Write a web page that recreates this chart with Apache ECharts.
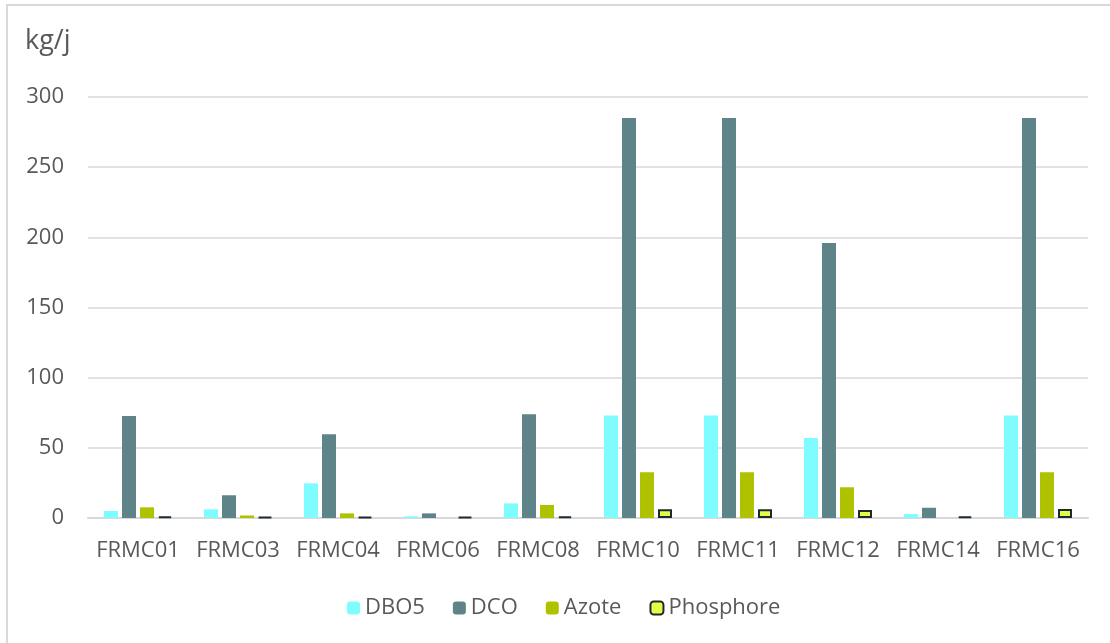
<!DOCTYPE html>
<html>
<head>
<meta charset="utf-8">
<script src="https://cdn.jsdelivr.net/npm/echarts@6/dist/echarts.min.js"></script>
<style>
html,body{margin:0;padding:0;background:#fff;}
#frame{position:absolute;left:6px;top:4px;width:1200px;height:700px;border-left:2px solid #d9d9d9;border-top:2px solid #d9d9d9;}
#chart{position:absolute;left:0;top:0;width:1110px;height:643px;}
</style>
</head>
<body>
<div id="frame"></div>
<div id="chart"></div>
<script>
const categories = ['FRMC01','FRMC03','FRMC04','FRMC06','FRMC08','FRMC10','FRMC11','FRMC12','FRMC14','FRMC16'];
const dbo5      = [5, 6.2, 24.7, 1.2, 10.4, 73, 73, 57, 2.8, 73];
const dco       = [72.7, 16.2, 59.6, 3.3, 74, 285, 285, 196, 7.3, 285];
const azote     = [7.6, 1.8, 3.3, 0, 9.3, 32.6, 32.6, 21.9, 0, 32.6];
const phosphore = [1.2, 0.8, 0.8, 0.8, 1.2, 6.3, 6.3, 5.7, 1, 6.5];
const yTicks = [0, 50, 100, 150, 200, 250, 300];

const font = '"Open Sans", "Noto Sans", sans-serif';
const txt = '#595959';
const chart = echarts.init(document.getElementById('chart'));
chart.setOption({
  animation: false,
  textStyle: {fontFamily: font},
  graphic: [{type: 'text', left: 25, top: 28, style: {text: 'kg/j', fontSize: 27, fill: txt, fontFamily: font}}],
  legend: {
    bottom: 19, left: 342, itemWidth: 13, itemHeight: 13, itemGap: 28,
    textStyle: {fontSize: 22, color: txt, fontFamily: font},
    data: ['DBO5','DCO','Azote','Phosphore']
  },
  grid: {left: 88, right: 22, top: 97, bottom: 125, containLabel: false},
  xAxis: {
    type: 'category', data: categories,
    axisLine: {lineStyle: {color: '#d9d9d9', width: 2}},
    axisTick: {show: false},
    axisLabel: {fontSize: 22, color: txt, margin: 22, fontFamily: font, interval: 0, hideOverlap: false}
  },
  yAxis: {
    type: 'value', min: yTicks[0], max: yTicks[yTicks.length-1], interval: 50,
    axisLine: {show: false}, axisTick: {show: false},
    splitLine: {lineStyle: {color: '#d9d9d9', width: 1.5}},
    axisLabel: {fontSize: 22, color: txt, margin: 24, fontFamily: font}
  },
  series: [
    {name: 'DBO5', type: 'bar', data: dbo5, barWidth: 14, barGap: '28.6%', itemStyle: {color: '#7ffcff'}},
    {name: 'DCO', type: 'bar', data: dco, barWidth: 14, itemStyle: {color: '#5e8489'}},
    {name: 'Azote', type: 'bar', data: azote, barWidth: 14, itemStyle: {color: '#aec200'}},
    {name: 'Phosphore', type: 'bar', data: phosphore, barWidth: 14, itemStyle: {color: '#e6fd47', borderColor: '#1c2b33', borderWidth: 2}}
  ]
});
</script>
</body>
</html>
